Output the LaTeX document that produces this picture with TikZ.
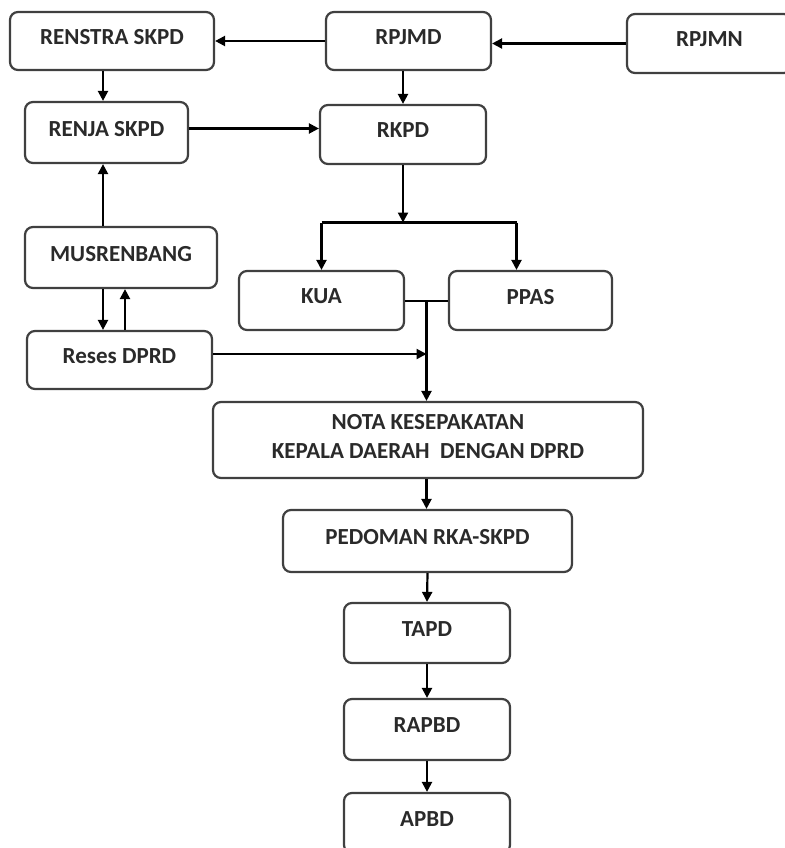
\documentclass[tikz,border=0pt]{standalone}
\usepackage{fontspec}
\setmainfont{Carlito}
\usetikzlibrary{arrows.meta}
\definecolor{boxline}{HTML}{404040}
\definecolor{txt}{HTML}{2A2A2A}
\tikzset{
  box/.style={draw=boxline, line width=2.2pt, rounded corners=8pt, fill=white,
    text=txt, font=\bfseries\fontsize{23}{29}\selectfont, align=center,
    inner sep=0pt, text depth=8pt},
  arr/.style={draw=black, line width=2.2pt, -{Triangle[length=10pt,width=10pt]}},
  ln/.style={draw=black, line width=2.2pt}
}
\begin{document}
\begin{tikzpicture}[x=1pt,y=-1pt]
\useasboundingbox (0,0) rectangle (784,848);
% boxes
\node[box, minimum width=204pt, minimum height=58pt] (renstra) at (112,41) {RENSTRA SKPD};
\node[box, minimum width=165pt, minimum height=58pt] (rpjmd) at (408.5,41) {RPJMD};
\node[box, minimum width=165pt, minimum height=59pt] (rpjmn) at (709.5,43.5) {RPJMN};
\node[box, minimum width=163pt, minimum height=61pt] (renja) at (106.5,132.5) {RENJA SKPD};
\node[box, minimum width=166pt, minimum height=59pt] (rkpd) at (403,134.5) {RKPD};
\node[box, minimum width=192pt, minimum height=61pt] (musren) at (121,257.5) {MUSRENBANG};
\node[box, minimum width=165pt, minimum height=59pt] (kua) at (321.5,300.5) {KUA};
\node[box, minimum width=163pt, minimum height=59pt] (ppas) at (530.5,300.5) {PPAS};
\node[box, minimum width=185pt, minimum height=58pt] (reses) at (119.5,360) {Reses DPRD};
\node[box, minimum width=430pt, minimum height=76pt] (nota) at (428,440) {NOTA KESEPAKATAN\\KEPALA DAERAH~ DENGAN DPRD};
\node[box, minimum width=289pt, minimum height=62pt] (pedoman) at (427.5,541) {PEDOMAN RKA-SKPD};
\node[box, minimum width=166pt, minimum height=60pt] (tapd) at (427,633) {TAPD};
\node[box, minimum width=166pt, minimum height=61pt] (rapbd) at (427,729.5) {RAPBD};
\node[box, minimum width=166pt, minimum height=60pt] (apbd) at (427,823) {APBD};
% junction points
\coordinate (j1) at (403,222.5);
\coordinate (j2) at (426.5,301);
\coordinate (j3) at (426.5,354);
\coordinate (rje) at ([yshift=4pt]renja.east);
% connectors
\draw[arr] (rpjmd.west) -- (renstra.east);
\draw[arr] (rpjmn.west) -- (rpjmd.east |- rpjmn.west);
\draw[arr] ([xshift=-3.5pt]renja.north |- renstra.south) -- ([xshift=-3.5pt]renja.north);
\draw[arr] (rkpd.north |- rpjmd.south) -- (rkpd.north);
\draw[arr] (rje) -- (rkpd.west |- rje);
\draw[arr] ([xshift=-3.5pt]renja.south |- musren.north) -- ([xshift=-3.5pt]renja.south);
\draw[arr] (rkpd.south) -- (j1);
\draw[ln] (kua.north |- j1) -- ([xshift=-14pt]ppas.north |- j1);
\draw[arr] (kua.north |- j1) -- (kua.north);
\draw[arr] ([xshift=-14pt]ppas.north |- j1) -- ([xshift=-14pt]ppas.north);
\draw[ln] (kua.east |- j2) -- (ppas.west |- j2);
\draw[arr] (j2) -- (nota.north -| j2);
\draw[arr] (reses.east |- j3) -- (j3);
\draw[arr] ([xshift=-18pt]musren.south) -- ([xshift=-18pt]musren.south |- reses.north);
\draw[arr] ([xshift=4pt]musren.south |- reses.north) -- ([xshift=4pt]musren.south);
\draw[arr] (nota.south -| j2) -- (pedoman.north -| j2);
\draw[arr] (pedoman.south) -- (tapd.north);
\draw[arr] (tapd.south) -- (rapbd.north);
\draw[arr] (rapbd.south) -- (apbd.north);
\end{tikzpicture}
\end{document}
